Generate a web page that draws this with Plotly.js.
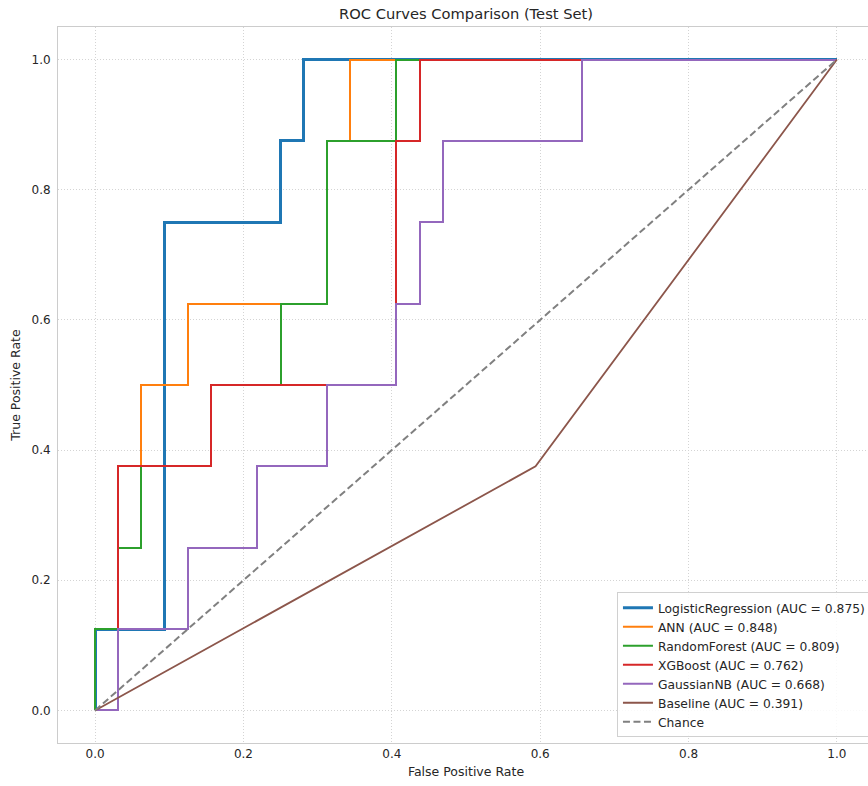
<!DOCTYPE html>
<html>
<head>
<meta charset="utf-8">
<script src="https://cdn.plot.ly/plotly-3.0.1.min.js"></script>
<style>
html,body{margin:0;padding:0;overflow:hidden;background:#fff;}
#chart{width:874px;height:786px;}
.scatterlayer .trace:nth-child(-n+5) .js-line{shape-rendering:crispEdges;}
</style>
</head>
<body>
<div id="chart"></div>
<script>
// ROC curve vertices (FPR, TPR)
const lrFpr  = [0, 0, 0.09375, 0.09375, 0.25, 0.25, 0.28125, 0.28125, 1];
const lrTpr  = [0, 0.125, 0.125, 0.75, 0.75, 0.875, 0.875, 1, 1];

const annFpr = [0, 0, 0.03125, 0.03125, 0.0625, 0.0625, 0.125, 0.125, 0.3125, 0.3125, 0.34375, 0.34375, 1];
const annTpr = [0, 0.125, 0.125, 0.375, 0.375, 0.5, 0.5, 0.625, 0.625, 0.875, 0.875, 1, 1];

const rfFpr  = [0, 0, 0.03125, 0.03125, 0.0625, 0.0625, 0.15625, 0.15625, 0.25, 0.25, 0.3125, 0.3125, 0.40625, 0.40625, 1];
const rfTpr  = [0, 0.125, 0.125, 0.25, 0.25, 0.375, 0.375, 0.5, 0.5, 0.625, 0.625, 0.875, 0.875, 1, 1];

const xgbFpr = [0, 0.03125, 0.03125, 0.15625, 0.15625, 0.40625, 0.40625, 0.4375, 0.4375, 1];
const xgbTpr = [0, 0, 0.375, 0.375, 0.5, 0.5, 0.875, 0.875, 1, 1];

const gnbFpr = [0, 0.03125, 0.03125, 0.125, 0.125, 0.21875, 0.21875, 0.3125, 0.3125, 0.40625, 0.40625, 0.4375, 0.4375, 0.46875, 0.46875, 0.65625, 0.65625, 1];
const gnbTpr = [0, 0, 0.125, 0.125, 0.25, 0.25, 0.375, 0.375, 0.5, 0.5, 0.625, 0.625, 0.75, 0.75, 0.875, 0.875, 1, 1];

const baseFpr = [0, 0.59375, 1];
const baseTpr = [0, 0.375, 1];

const chanceX = [0, 1];
const chanceY = [0, 1];

const names = [
  "LogisticRegression (AUC = 0.875)",
  "ANN (AUC = 0.848)",
  "RandomForest (AUC = 0.809)",
  "XGBoost (AUC = 0.762)",
  "GaussianNB (AUC = 0.668)",
  "Baseline (AUC = 0.391)",
  "Chance"
];
const colors = ["#1f77b4", "#ff7f0e", "#2ca02c", "#d62728", "#9467bd", "#8c564b", "#808080"];
const widths = [3, 2, 2, 2, 2, 1.8, 2];
const xs = [lrFpr, annFpr, rfFpr, xgbFpr, gnbFpr, baseFpr, chanceX];
const ys = [lrTpr, annTpr, rfTpr, xgbTpr, gnbTpr, baseTpr, chanceY];

const traces = names.map((n, i) => ({
  x: xs[i], y: ys[i], name: n, type: "scatter", mode: "lines",
  line: {color: colors[i], width: widths[i], dash: i === 6 ? "7px,3.5px" : "solid"},
  hoverinfo: "skip"
}));

const axisCommon = {
  showgrid: true, gridcolor: "#d4d4d4", griddash: "1px,2px", gridwidth: 1,
  zeroline: false, showline: true, mirror: true, linecolor: "#cccccc", linewidth: 1,
  ticks: "", tickfont: {family: "DejaVu Sans", size: 12, color: "#262626"},
  dtick: 0.2, tickformat: ".1f"
};

const layout = {
  width: 874, height: 786,
  margin: {l: 58, r: 0, t: 27, b: 43},
  paper_bgcolor: "#fff", plot_bgcolor: "#fff",
  font: {family: "DejaVu Sans", color: "#262626"},
  title: {text: "ROC Curves Comparison (Test Set)", x: 466/874, xanchor: "center", y: 1 - 14/786, yanchor: "middle",
          font: {family: "DejaVu Sans", size: 14.7, color: "#262626"}},
  xaxis: Object.assign({}, axisCommon, {range: [-0.05, 1.05],
          title: {text: "False Positive Rate", font: {family: "DejaVu Sans", size: 12.5, color: "#262626"}, standoff: 6}}),
  yaxis: Object.assign({}, axisCommon, {range: [-0.05, 1.05], ticklabelstandoff: 4,
          title: {text: "True Positive Rate", font: {family: "DejaVu Sans", size: 12.5, color: "#262626"}, standoff: 8}}),
  showlegend: true,
  legend: {x: 0.685, xanchor: "left", y: 0.008, yanchor: "bottom",
           bgcolor: "rgba(255,255,255,0.85)", bordercolor: "#d0d0d0", borderwidth: 1,
           font: {family: "DejaVu Sans", size: 12.3, color: "#262626"}, tracegroupgap: 0}
};

Plotly.newPlot("chart", traces, layout, {displayModeBar: false, staticPlot: true});
</script>
</body>
</html>
